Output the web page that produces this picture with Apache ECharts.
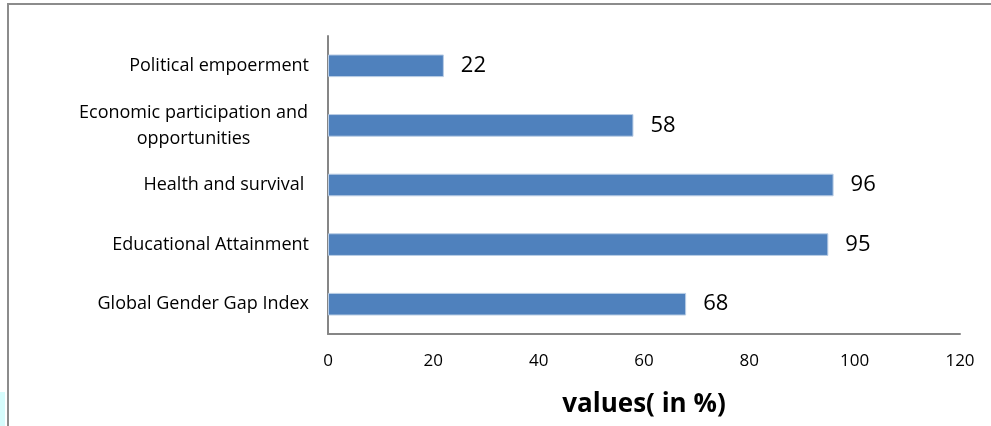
<!DOCTYPE html>
<html><head><meta charset="utf-8">
<script src="https://cdn.jsdelivr.net/npm/echarts@6/dist/echarts.min.js"></script>
<style>html,body{margin:0;padding:0;background:#fff}#c{width:991px;height:426px}</style>
</head><body><div id="c"></div>
<script>
var categories = ['Global Gender Gap Index', 'Educational Attainment', 'Health and survival ', 'Economic participation and\nopportunities', 'Political empoerment'];
var values = [68, 95, 96, 58, 22];
var xTicks = {min: 0, max: 120, interval: 20};
var axisTitle = 'values( in %)';

var FONT = 'Open Sans';
var LBL = 18;
function textW(s, size) {
  var cv = document.createElement('canvas').getContext('2d');
  cv.font = size + 'px "' + FONT + '"';
  return Math.max.apply(null, s.split('\n').map(function (l) { return cv.measureText(l).width; }));
}
var multiW = Math.ceil(textW(categories.filter(function (c) { return c.indexOf('\n') >= 0; })[0] || 'x', LBL)) + 2;

var chart = echarts.init(document.getElementById('c'), null, {renderer: 'canvas'});
chart.setOption({
  animation: false,
  backgroundColor: '#fff',
  textStyle: {fontFamily: FONT},
  graphic: [
    {type: 'rect', shape: {x: 8, y: 4, width: 1100, height: 600}, style: {fill: 'none', stroke: '#8c8c8c', lineWidth: 2}, silent: true},
    {type: 'rect', shape: {x: 0, y: 392, width: 5, height: 34}, style: {fill: '#d6fcfc'}, silent: true}
  ],
  grid: {left: 328, right: 31, top: 36, bottom: 92, containLabel: false, outerBoundsMode: 'none'},
  xAxis: {
    type: 'value', min: xTicks.min, max: xTicks.max, interval: xTicks.interval,
    axisLine: {show: true, lineStyle: {color: '#868686', width: 2}},
    axisTick: {show: false},
    splitLine: {show: false},
    axisLabel: {color: '#000', fontSize: 17, margin: 19, fontFamily: FONT},
    name: axisTitle, nameLocation: 'middle', nameGap: 58,
    nameTextStyle: {fontSize: 26, fontWeight: 'bold', color: '#000', fontFamily: FONT}
  },
  yAxis: {
    type: 'category', data: categories,
    axisLine: {show: true, lineStyle: {color: '#868686', width: 2}},
    axisTick: {show: false},
    axisLabel: {
      color: '#000', fontSize: LBL, margin: 19, fontFamily: FONT, lineHeight: 26,
      formatter: function (v) { return v.indexOf('\n') >= 0 ? v.split('\n').map(function (l) { return '{m|' + l + '}'; }).join('\n') : v; },
      rich: {m: {width: multiW, align: 'center', fontSize: LBL, lineHeight: 26, color: '#000', fontFamily: FONT}}
    }
  },
  series: [{
    type: 'bar', data: values, barWidth: '38%',
    itemStyle: {color: '#4f81bd', borderColor: '#b9cde5', borderWidth: 1},
    label: {show: true, position: 'right', distance: 17, fontSize: 22, color: '#000', fontFamily: FONT}
  }]
});
</script></body></html>
